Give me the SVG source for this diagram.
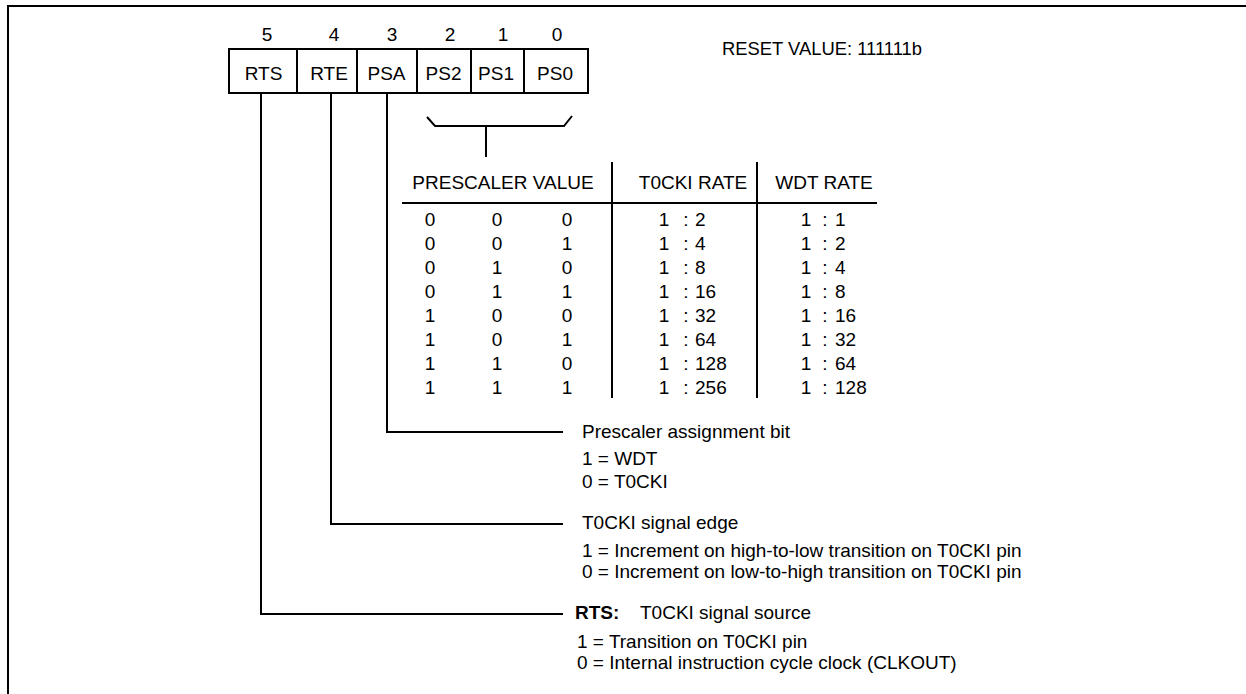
<svg xmlns="http://www.w3.org/2000/svg" width="1246" height="694" viewBox="0 0 1246 694">
<style>
  text { font-family: "Liberation Sans", Arial, sans-serif; font-size: 19px; fill: #000; }
  .c { text-anchor: middle; }
  .b { font-weight: bold; }
  .rv { font-size: 18.4px; }
  .ln { stroke: #000; stroke-width: 2; fill: none; }
</style>
<rect width="1246" height="694" fill="#fff"/>
<g id="frame">
  <path class="ln" d="M8,694 V6 H1246"/>
</g>
<g id="register">
  <g id="bit-numbers">
    <text class="c" x="267" y="41">5</text>
    <text class="c" x="334" y="41">4</text>
    <text class="c" x="392" y="41">3</text>
    <text class="c" x="450" y="41">2</text>
    <text class="c" x="503" y="41">1</text>
    <text class="c" x="557" y="41">0</text>
  </g>
  <rect class="ln" x="229" y="49" width="359" height="44"/>
  <path class="ln" d="M297,49 V93 M357,49 V93 M417,49 V93 M471,49 V93 M524,49 V93"/>
  <g id="bit-RTS"><text class="c" x="263.5" y="80">RTS</text></g>
  <g id="bit-RTE"><text class="c" x="329" y="80">RTE</text></g>
  <g id="bit-PSA"><text class="c" x="386.5" y="80">PSA</text></g>
  <g id="bit-PS2"><text class="c" x="443.5" y="80">PS2</text></g>
  <g id="bit-PS1"><text class="c" x="496" y="80">PS1</text></g>
  <g id="bit-PS0"><text class="c" x="555" y="80">PS0</text></g>
</g>
<g id="reset-value">
  <text class="rv" x="722" y="55">RESET VALUE: 111111b</text>
</g>
<g id="connectors">
  <path class="ln" d="M427,117 L435,126 H564 L572,116 M486,126 V157"/>
  <path class="ln" d="M387,93 V432 H563"/>
  <path class="ln" d="M331,93 V524 H563"/>
  <path class="ln" d="M261,93 V614 H563"/>
</g>
<g id="prescaler-table">
  <text class="c" x="503" y="189">PRESCALER VALUE</text>
  <text class="c" x="693" y="189">T0CKI RATE</text>
  <text class="c" x="824" y="189">WDT RATE</text>
  <path class="ln" d="M402,203 H877 M612,162 V398 M757,162 V398"/>
  <g id="ps-col">
    <text class="c" x="430" y="226">0</text><text class="c" x="497" y="226">0</text><text class="c" x="567" y="226">0</text>
    <text class="c" x="430" y="250">0</text><text class="c" x="497" y="250">0</text><text class="c" x="567" y="250">1</text>
    <text class="c" x="430" y="274">0</text><text class="c" x="497" y="274">1</text><text class="c" x="567" y="274">0</text>
    <text class="c" x="430" y="298">0</text><text class="c" x="497" y="298">1</text><text class="c" x="567" y="298">1</text>
    <text class="c" x="430" y="322">1</text><text class="c" x="497" y="322">0</text><text class="c" x="567" y="322">0</text>
    <text class="c" x="430" y="346">1</text><text class="c" x="497" y="346">0</text><text class="c" x="567" y="346">1</text>
    <text class="c" x="430" y="370">1</text><text class="c" x="497" y="370">1</text><text class="c" x="567" y="370">0</text>
    <text class="c" x="430" y="394">1</text><text class="c" x="497" y="394">1</text><text class="c" x="567" y="394">1</text>
  </g>
  <g id="t0cki-col">
    <text class="c" x="664" y="226">1</text><text class="c" x="686" y="226">:</text><text x="695" y="226">2</text>
    <text class="c" x="664" y="250">1</text><text class="c" x="686" y="250">:</text><text x="695" y="250">4</text>
    <text class="c" x="664" y="274">1</text><text class="c" x="686" y="274">:</text><text x="695" y="274">8</text>
    <text class="c" x="664" y="298">1</text><text class="c" x="686" y="298">:</text><text x="695" y="298">16</text>
    <text class="c" x="664" y="322">1</text><text class="c" x="686" y="322">:</text><text x="695" y="322">32</text>
    <text class="c" x="664" y="346">1</text><text class="c" x="686" y="346">:</text><text x="695" y="346">64</text>
    <text class="c" x="664" y="370">1</text><text class="c" x="686" y="370">:</text><text x="695" y="370">128</text>
    <text class="c" x="664" y="394">1</text><text class="c" x="686" y="394">:</text><text x="695" y="394">256</text>
  </g>
  <g id="wdt-col">
    <text class="c" x="806" y="226">1</text><text class="c" x="825" y="226">:</text><text x="835" y="226">1</text>
    <text class="c" x="806" y="250">1</text><text class="c" x="825" y="250">:</text><text x="835" y="250">2</text>
    <text class="c" x="806" y="274">1</text><text class="c" x="825" y="274">:</text><text x="835" y="274">4</text>
    <text class="c" x="806" y="298">1</text><text class="c" x="825" y="298">:</text><text x="835" y="298">8</text>
    <text class="c" x="806" y="322">1</text><text class="c" x="825" y="322">:</text><text x="835" y="322">16</text>
    <text class="c" x="806" y="346">1</text><text class="c" x="825" y="346">:</text><text x="835" y="346">32</text>
    <text class="c" x="806" y="370">1</text><text class="c" x="825" y="370">:</text><text x="835" y="370">64</text>
    <text class="c" x="806" y="394">1</text><text class="c" x="825" y="394">:</text><text x="835" y="394">128</text>
  </g>
</g>
<g id="desc-PSA">
  <text x="582" y="438">Prescaler assignment bit</text>
  <text x="582" y="465">1 = WDT</text>
  <text x="582" y="488">0 = T0CKI</text>
</g>
<g id="desc-RTE">
  <text x="582" y="529">T0CKI signal edge</text>
  <text x="582" y="557">1 = Increment on high-to-low transition on T0CKI pin</text>
  <text x="582" y="578">0 = Increment on low-to-high transition on T0CKI pin</text>
</g>
<g id="desc-RTS">
  <text class="b" x="575" y="619">RTS:</text>
  <text x="640" y="619">T0CKI signal source</text>
  <text x="577" y="648">1 = Transition on T0CKI pin</text>
  <text x="577" y="669">0 = Internal instruction cycle clock (CLKOUT)</text>
</g>
</svg>
